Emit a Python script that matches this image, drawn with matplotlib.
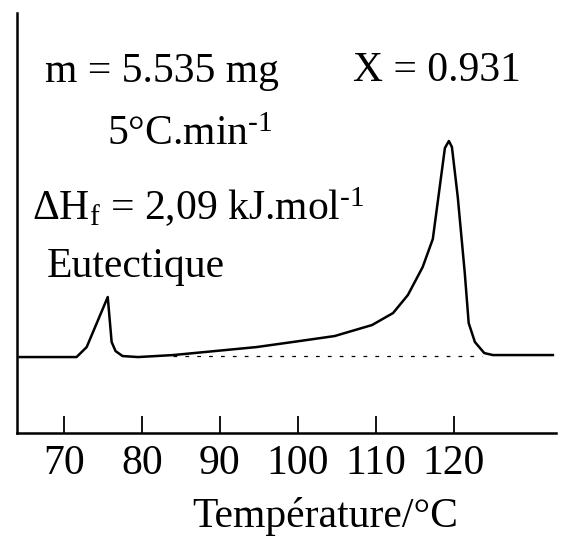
import numpy as np
import matplotlib
matplotlib.use("Agg")
import matplotlib.pyplot as plt

plt.rcParams['font.family'] = ['Liberation Serif', 'DejaVu Serif']
plt.rcParams['mathtext.fontset'] = 'custom'
plt.rcParams['mathtext.rm'] = 'Liberation Serif'
plt.rcParams['mathtext.it'] = 'Liberation Serif:italic'

# DSC trace (temperature in C, heat flow in arbitrary units)
temp = [64.3, 71.6, 72.9, 75.6, 76.1, 76.6, 77.5, 79.5, 84.0, 94.7, 100.2,
        104.7, 109.5, 112.2, 114.1, 116.0, 117.3, 118.1, 118.85, 119.36,
        119.75, 120.5, 121.4, 121.9, 122.7, 123.9, 125.0, 132.7]
flow = [0.0, 0.0, 1.0, 6.0, 1.5, 0.6, 0.1, 0.0, 0.2, 1.0, 1.6,
        2.1, 3.2, 4.4, 6.2, 9.0, 11.8, 16.5, 20.9, 21.6,
        21.0, 16.0, 8.4, 3.4, 1.5, 0.4, 0.2, 0.2]

# baseline drawn under the melting region
base_t = [84.0, 123.6]
base_y = [0.1, 0.1]

ticks = [70, 80, 90, 100, 110, 120]

fig = plt.figure(figsize=(5.62, 5.40), dpi=100)
ax = fig.add_axes([0.0308, 0.198, 0.9585, 0.778])

ax.plot(temp, flow, color='black', lw=1.8)
ax.plot(base_t, base_y, color='black', lw=0.9, dashes=(3, 6.5))

ax.set_xlim(64.0, 133.1)
ax.set_ylim(-7.6, 34.4)

ax.spines['top'].set_visible(False)
ax.spines['right'].set_visible(False)
ax.spines['left'].set_linewidth(1.8)
ax.spines['bottom'].set_linewidth(1.8)

ax.set_xticks(ticks)
ax.set_xticklabels([str(t) for t in ticks])
ax.set_yticks([])
ax.tick_params(axis='x', direction='in', length=12, width=1.3, pad=8, labelsize=30)

ax.set_xlabel('Température/°C', fontsize=30)
ax.xaxis.set_label_coords(0.571, -0.152)

fs = 30
ax.text(0.0514, 0.836, 'm = 5.535 mg', transform=ax.transAxes, fontsize=fs, va='baseline')
ax.text(0.623, 0.839, 'X = 0.931', transform=ax.transAxes, fontsize=fs, va='baseline')
ax.text(0.1665, 0.686, r'5°C.min$^{\text{-}1}$', transform=ax.transAxes, fontsize=fs, va='baseline')
ax.text(0.0273, 0.507, r'ΔH$_{\mathregular{f}}$ = 2,09 kJ.mol$^{\text{-}1}$', transform=ax.transAxes,
        fontsize=fs, va='baseline')
ax.text(0.0551, 0.371, 'Eutectique', transform=ax.transAxes, fontsize=fs, va='baseline')

fig.savefig('out.png', dpi=100)
